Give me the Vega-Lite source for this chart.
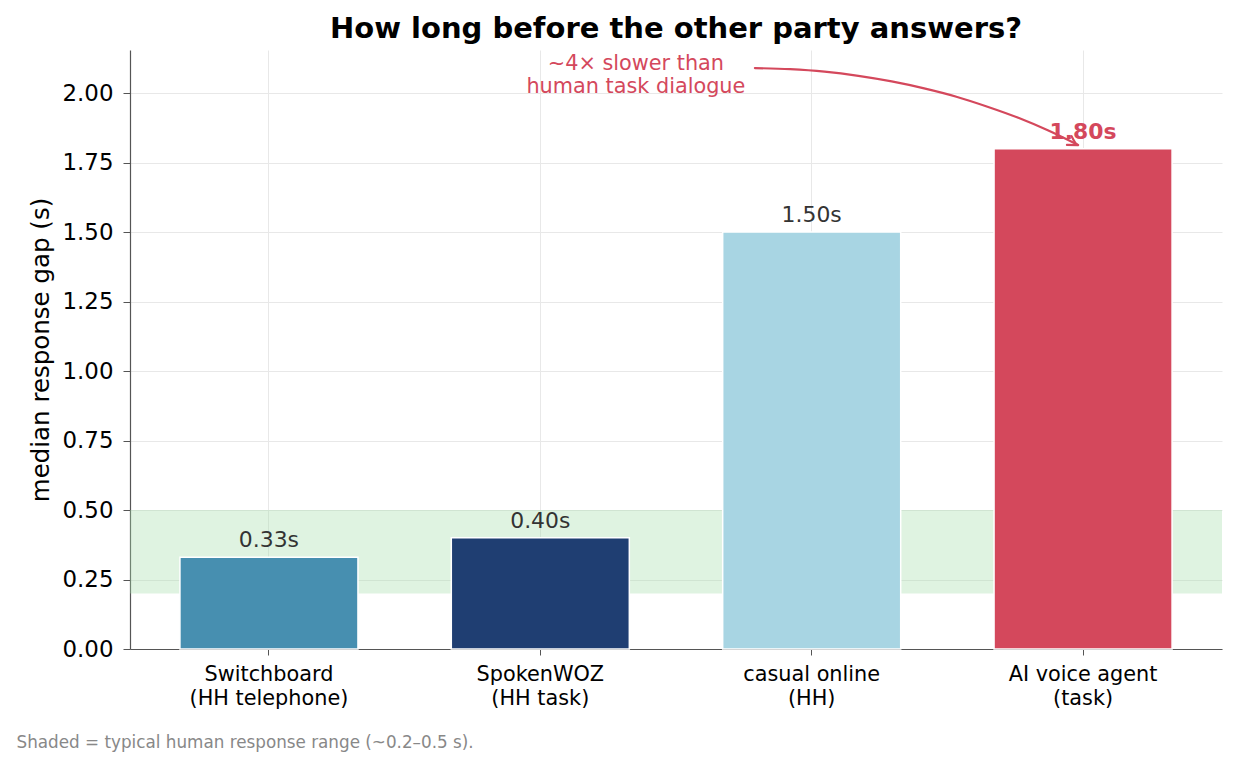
{
  "$schema": "https://vega.github.io/schema/vega-lite/v6.json",
  "autosize": {"type": "none"},
  "width": 1092,
  "height": 599,
  "padding": {"left": 130, "top": 50, "right": 16, "bottom": 119},
  "background": "white",
  "title": {
    "text": "How long before the other party answers?",
    "fontSize": 29,
    "fontWeight": "bold",
    "color": "#000000",
    "anchor": "middle",
    "baseline": "bottom",
    "offset": -23
  },
  "layer": [
    {
      "layer": [
        {
          "data": {"values": [{"lo": 0.2, "hi": 0.5}]},
          "mark": {"type": "rect", "color": "#a3dca8", "opacity": 0.35},
          "encoding": {
            "y": {
              "field": "lo",
              "type": "quantitative",
              "scale": {"domain": [0, 2.155], "nice": false},
              "axis": {"values": [0, 0.25, 0.5, 0.75, 1, 1.25, 1.5, 1.75, 2], "format": ".2f", "title": "median response gap (s)"}
            },
            "y2": {"field": "hi"}
          }
        },
        {
          "data": {
            "values": [
              {"name": "Switchboard\n(HH telephone)", "gap": 0.33, "txt": "0.33s", "hl": false},
              {"name": "SpokenWOZ\n(HH task)", "gap": 0.40, "txt": "0.40s", "hl": false},
              {"name": "casual online\n(HH)", "gap": 1.50, "txt": "1.50s", "hl": false},
              {"name": "AI voice agent\n(task)", "gap": 1.80, "txt": "1.80s", "hl": true}
            ]
          },
          "encoding": {
            "x": {
              "field": "name",
              "type": "nominal",
              "sort": null,
              "scale": {"paddingInner": 0.344, "paddingOuter": 0.184},
              "axis": {
                "labelExpr": "split(datum.label, '\\n')",
                "labelAngle": 0,
                "labelFontSize": 20.8,
                "labelColor": "#000000",
                "labelLineHeight": 24,
                "labelPadding": 9,
                "tickSize": 6,
                "tickColor": "#555555",
                "domainColor": "#555555",
                "domainWidth": 1.2,
                "grid": true,
                "gridColor": "#e8e8e8",
                "title": "Shaded = typical human response range (~0.2–0.5 s).",
                "titleFontSize": 16.8,
                "titleFontWeight": "normal",
                "titleColor": "#888888",
                "titleAlign": "left",
                "titleAnchor": "start",
                "titleBaseline": "alphabetic",
                "titleX": -114,
                "titleY": 98
              }
            }
          },
          "layer": [
            {
              "mark": {"type": "bar", "stroke": "white", "strokeWidth": 1.5},
              "encoding": {
                "y": {
                  "field": "gap",
                  "type": "quantitative",
                  "scale": {"domain": [0, 2.155], "nice": false},
                  "axis": {"values": [0, 0.25, 0.5, 0.75, 1, 1.25, 1.5, 1.75, 2], "format": ".2f", "title": "median response gap (s)"}
                },
                "color": {
                  "field": "name",
                  "type": "nominal",
                  "scale": {
                    "domain": ["Switchboard\n(HH telephone)", "SpokenWOZ\n(HH task)", "casual online\n(HH)", "AI voice agent\n(task)"],
                    "range": ["#478fb0", "#1f3e72", "#a8d5e3", "#d4485c"]
                  },
                  "legend": null
                }
              }
            },
            {
              "transform": [{"filter": "!datum.hl"}],
              "mark": {"type": "text", "fontSize": 21.9, "color": "#333333", "baseline": "alphabetic", "dy": -10},
              "encoding": {
                "y": {
                  "field": "gap",
                  "type": "quantitative",
                  "scale": {"domain": [0, 2.155], "nice": false},
                  "axis": {"values": [0, 0.25, 0.5, 0.75, 1, 1.25, 1.5, 1.75, 2], "format": ".2f", "title": "median response gap (s)"}
                },
                "text": {"field": "txt"}
              }
            },
            {
              "transform": [{"filter": "datum.hl"}],
              "mark": {"type": "text", "fontSize": 21.9, "fontWeight": "bold", "color": "#d4485c", "baseline": "alphabetic", "dy": -10},
              "encoding": {
                "y": {
                  "field": "gap",
                  "type": "quantitative",
                  "scale": {"domain": [0, 2.155], "nice": false},
                  "axis": {"values": [0, 0.25, 0.5, 0.75, 1, 1.25, 1.5, 1.75, 2], "format": ".2f", "title": "median response gap (s)"}
                },
                "text": {"field": "txt"}
              }
            }
          ]
        }
      ]
    },
    {
      "layer": [
        {
          "data": {"values": [{"ax": 1.353, "ay": 2.103, "note": "~4× slower than\nhuman task dialogue"}]},
          "mark": {"type": "text", "fontSize": 20.8, "color": "#d4485c", "lineBreak": "\n", "lineHeight": 23, "baseline": "middle"},
          "encoding": {
            "x": {"field": "ax", "type": "quantitative", "scale": {"domain": [-0.5, 3.5], "nice": false, "zero": false}, "axis": null},
            "y": {
              "field": "ay",
              "type": "quantitative",
              "scale": {"domain": [0, 2.155], "nice": false},
              "axis": {"values": [0, 0.25, 0.5, 0.75, 1, 1.25, 1.5, 1.75, 2], "format": ".2f", "title": "median response gap (s)"}
            },
            "text": {"field": "note"}
          }
        },
        {
          "data": {
            "values": [
              {"part": "curve", "k": 0, "ax": 1.789, "ay": 2.090},
              {"part": "curve", "k": 1, "ax": 1.918, "ay": 2.086},
              {"part": "curve", "k": 2, "ax": 2.044, "ay": 2.077},
              {"part": "curve", "k": 3, "ax": 2.168, "ay": 2.062},
              {"part": "curve", "k": 4, "ax": 2.290, "ay": 2.042},
              {"part": "curve", "k": 5, "ax": 2.409, "ay": 2.017},
              {"part": "curve", "k": 6, "ax": 2.527, "ay": 1.987},
              {"part": "curve", "k": 7, "ax": 2.641, "ay": 1.951},
              {"part": "curve", "k": 8, "ax": 2.754, "ay": 1.911},
              {"part": "curve", "k": 9, "ax": 2.864, "ay": 1.865},
              {"part": "curve", "k": 10, "ax": 2.973, "ay": 1.813},
              {"part": "head", "k": 0, "ax": 2.949, "ay": 1.845},
              {"part": "head", "k": 1, "ax": 2.973, "ay": 1.813},
              {"part": "head", "k": 2, "ax": 2.932, "ay": 1.8136}
            ]
          },
          "mark": {"type": "line", "color": "#d4485c", "strokeWidth": 2.2, "interpolate": "monotone", "strokeCap": "round"},
          "encoding": {
            "x": {"field": "ax", "type": "quantitative", "scale": {"domain": [-0.5, 3.5], "nice": false, "zero": false}, "axis": null},
            "y": {
              "field": "ay",
              "type": "quantitative",
              "scale": {"domain": [0, 2.155], "nice": false},
              "axis": {"values": [0, 0.25, 0.5, 0.75, 1, 1.25, 1.5, 1.75, 2], "format": ".2f", "title": "median response gap (s)"}
            },
            "detail": {"field": "part"},
            "order": {"field": "k"}
          }
        }
      ]
    }
  ],
  "resolve": {"scale": {"x": "independent"}, "axis": {"x": "independent"}},
  "config": {
    "font": "DejaVu Sans",
    "view": {"stroke": null},
    "axis": {"labelFont": "DejaVu Sans", "titleFont": "DejaVu Sans"},
    "axisY": {
      "titleFontSize": 24.5,
      "titleFontWeight": "normal",
      "titleColor": "#000000",
      "titlePadding": 9,
      "labelFontSize": 22.9,
      "labelColor": "#000000",
      "labelPadding": 10,
      "tickSize": 7,
      "tickColor": "#555555",
      "domainColor": "#555555",
      "domainWidth": 1.2,
      "grid": true,
      "gridColor": "#e8e8e8"
    }
  }
}
